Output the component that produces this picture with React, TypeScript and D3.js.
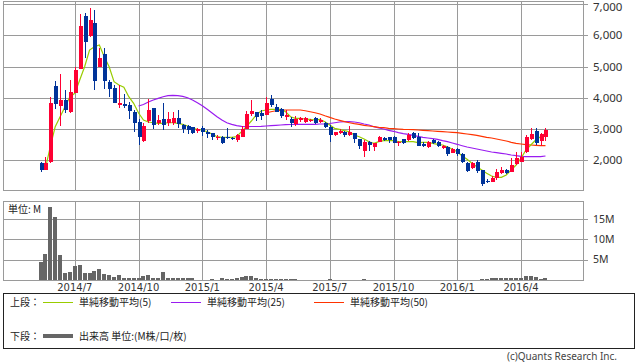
import React, { useRef, useEffect } from "react";
import * as d3 from "d3";

// weekly candles (Friday dated)
const weeks = d3.timeFriday.range(new Date(2014, 4, 16), new Date(2016, 4, 7));

const opens = [
  1923, 1690, 1946, 4376, 3736, 3928, 3554, 4162, 4929, 6615, 5975, 6400, 4993, 5400, 4514, 4312, 3768, 3800, 3768, 3554,
  3234, 2617, 3257, 3663, 3183, 3311, 3183, 3183, 3343, 3129, 3097, 3055, 2937, 3023, 2915, 2864, 2700, 2736, 2736, 2720,
  2649, 2755, 3001, 3481, 3535, 3503, 3449, 3960, 3714, 3641, 3394, 3321, 3151, 3300, 3235, 3257, 3343, 3235, 3183, 3075,
  2809, 2883, 2915, 2809, 2864, 2672, 2307, 2595, 2416, 2595, 2704, 2736, 2755, 2544, 2672, 2649, 2864, 2736, 2512, 2416,
  2649, 2595, 2384, 2435, 2243, 2361, 2201, 1923, 1744, 1955, 1690, 1325, 1316, 1424, 1584, 1690, 1635, 1882, 1955, 2275,
  2681, 2947, 2617, 2736,
];
const highs = [
  1955, 2105, 4024, 4546, 4760, 4248, 4568, 4993, 6678, 6701, 6871, 6807, 5582, 5582, 4560, 4408, 4398, 4120, 3855, 3600,
  3321, 3183, 3960, 3680, 3449, 3842, 3535, 3535, 3609, 3150, 3129, 3070, 3020, 3097, 2980, 2880, 2800, 2770, 3043, 2760,
  2830, 3107, 3577, 3928, 3560, 3609, 4015, 4088, 3791, 3660, 3609, 3394, 3417, 3375, 3394, 3320, 3375, 3362, 3235, 3129,
  2900, 3000, 2930, 3097, 2880, 2690, 2649, 2610, 2560, 2777, 2736, 2750, 2770, 2610, 2690, 2883, 2915, 2864, 2595, 2610,
  2670, 2610, 2480, 2450, 2380, 2380, 2243, 1940, 1955, 2010, 1700, 1400, 1500, 1712, 1776, 1720, 2064, 2275, 2275, 2800,
  3023, 3023, 2870, 3023,
];
const lows = [
  1620, 1680, 1904, 3641, 3097, 3503, 3512, 4152, 4920, 5262, 5960, 4248, 4980, 4270, 4015, 3823, 3663, 3663, 3311, 2915,
  2489, 2590, 3202, 2991, 3129, 2969, 3097, 3129, 3033, 2864, 2831, 2841, 2880, 2777, 2713, 2649, 2650, 2530, 2690, 2660,
  2576, 2740, 2990, 3417, 3247, 3289, 3440, 3714, 3540, 3353, 3289, 3075, 3097, 3235, 3183, 3230, 3170, 3183, 3023, 2576,
  2777, 2850, 2755, 2790, 2544, 2371, 2096, 2297, 2307, 2580, 2620, 2544, 2544, 2467, 2520, 2630, 2690, 2450, 2420, 2400,
  2520, 2420, 2360, 2150, 2220, 2150, 1920, 1626, 1730, 1600, 1178, 1260, 1300, 1370, 1560, 1560, 1620, 1860, 1940, 2233,
  2660, 2500, 2467, 2620,
];
const closes = [
  1690, 1904, 3842, 3810, 3928, 3609, 4184, 4888, 6294, 5793, 6487, 4536, 5272, 4536, 4280, 3842, 3832, 3736, 3586, 3183,
  2755, 3097, 3609, 3130, 3289, 3129, 3311, 3362, 3151, 2991, 2969, 2883, 2991, 2915, 2831, 2736, 2760, 2544, 2700, 2690,
  2809, 3001, 3471, 3586, 3375, 3426, 3823, 3768, 3554, 3417, 3449, 3202, 3311, 3343, 3343, 3289, 3183, 3289, 3075, 2809,
  2895, 2947, 2809, 2915, 2672, 2457, 2595, 2489, 2544, 2736, 2649, 2649, 2563, 2595, 2544, 2809, 2704, 2467, 2467, 2595,
  2544, 2467, 2457, 2192, 2361, 2192, 1936, 1668, 1923, 1658, 1232, 1316, 1424, 1635, 1690, 1584, 1850, 2064, 2115, 2755,
  2831, 2544, 2841, 2969,
];
// volume, millions
const volumes = [
  4.5, 6.4, 18.0, 15.5, 6.2, 1.8, 2.0, 3.5, 3.8, 1.8, 1.8, 2.3, 2.6, 1.5, 1.3, 0.8, 1.3, 0.55, 0.4, 0.4,
  0.55, 1.05, 1.3, 0.55, 0.55, 2.0, 0.55, 0.4, 0.4, 0.4, 0.4, 0.4, 0.1, 0.1, 0.1, 0.3, 0.1, 0.55, 0.15, 0.3,
  0.45, 0.7, 0.9, 0.9, 0.4, 0.35, 0.35, 0.35, 0.35, 0.3, 0.3, 0.2, 0.25, 0.1, 0.1, 0.1, 0.1, 0.1, 0.1, 0.3,
  0.1, 0.05, 0.05, 0.05, 0.05, 0.05, 0.3, 0.05, 0.05, 0.05, 0.05, 0.05, 0.05, 0.05, 0.05, 0.05, 0.05, 0.05, 0.05, 0.05,
  0.05, 0.05, 0.05, 0.05, 0.05, 0.05, 0.05, 0.05, 0.1, 0.1, 0.25, 0.3, 0.4, 0.6, 0.45, 0.6, 0.45, 0.6, 0.6, 1.1,
  0.9, 0.7, 0.2, 0.55,
];
const ma5 = [
  1744, 1744, 2435, 3075, 3394, 3714, 4034, 4142, 4568, 4993, 5527, 5633, 5687, 5313, 4993, 4514, 4408, 4335, 4034, 3823,
  3513, 3289, 3225, 3202, 3183, 3183, 3202, 3202, 3183, 3151, 3097, 3023, 2991, 2969, 2915, 2841, 2755, 2736, 2736, 2736,
  2755, 2915, 3075, 3257, 3449, 3577, 3609, 3631, 3631, 3631, 3554, 3394, 3343, 3343, 3321, 3311, 3289, 3311, 3235, 3129,
  3023, 2991, 2947, 2915, 2809, 2755, 2681, 2595, 2544, 2595, 2627, 2627, 2627, 2595, 2595, 2595, 2595, 2563, 2576, 2576,
  2544, 2512, 2489, 2435, 2352, 2275, 2137, 2031, 1904, 1795, 1690, 1584, 1498, 1456, 1456, 1530, 1690, 1850, 2064, 2329,
  2489, 2649, 2755, 2864,
];
const ma25 = [
  null, null, null, null, null, null, null, null, null, null, null, null, null, null, null, null, null, null, null, null,
  3737, 3784, 3864, 3928, 3983, 4034, 4066, 4079, 4066, 4047, 4002, 3928, 3842, 3746, 3631, 3513, 3394, 3289, 3202, 3151,
  3107, 3087, 3075, 3081, 3081, 3087, 3097, 3107, 3119, 3129, 3139, 3145, 3151, 3151, 3151, 3151, 3151, 3161, 3161, 3177,
  3202, 3225, 3235, 3235, 3225, 3202, 3161, 3129, 3075, 3033, 3001, 2960, 2928, 2883, 2851, 2832, 2800, 2768, 2736, 2713,
  2691, 2671, 2627, 2595, 2553, 2512, 2467, 2425, 2393, 2361, 2329, 2297, 2265, 2243, 2224, 2201, 2169, 2147, 2128, 2115,
  2115, 2115, 2115, 2137,
];
const ma50 = [
  null, null, null, null, null, null, null, null, null, null, null, null, null, null, null, null, null, null, null, null,
  null, null, null, null, null, null, null, null, null, null, null, null, null, null, null, null, null, null, null, null,
  null, null, null, null, null, null, 3513, 3554, 3586, 3599, 3609, 3609, 3609, 3609, 3586, 3554, 3522, 3481, 3426, 3375,
  3321, 3279, 3235, 3202, 3171, 3151, 3119, 3097, 3075, 3055, 3043, 3023, 3011, 3001, 2991, 2985, 2979, 2969, 2960, 2947,
  2937, 2928, 2915, 2905, 2896, 2883, 2864, 2841, 2819, 2800, 2768, 2736, 2713, 2681, 2649, 2617, 2576, 2544, 2521, 2499,
  2489, 2480, 2467, 2467,
];

const priceTicks = [2000, 3000, 4000, 5000, 6000, 7000];
const volumeTicks = [5, 10, 15];
const tickMonths = [0, 3, 6, 9];

const legendTop = [
  { label: "単純移動平均(5)", color: "#99cc00" },
  { label: "単純移動平均(25)", color: "#9a1cf0" },
  { label: "単純移動平均(50)", color: "#ff3300" },
];

const UP = "#ff0033";
const DOWN = "#003399";
const GRID = "#9a9a9a";

const App = () => {
  const svgRef = useRef<SVGSVGElement>(null);

  useEffect(() => {
    document.body.style.margin = "0";
    const svg = d3.select(svgRef.current);
    svg.selectAll("*").remove();

    const left = 3, right = 583;
    const mainTop = 1, mainBottom = 190;
    const volTop = 201, volBottom = 280;

    const idx = weeks.map((_, i) => i);
    const x = d3.scalePoint<number>().domain(idx).range([left, right]).padding(7.65);
    const y = d3.scaleLinear().domain([1050, 7096]).range([mainBottom, mainTop]);
    const yv = d3.scaleLinear().domain([0, 19.5]).range([volBottom, volTop]);

    // first week of Jan/Apr/Jul/Oct
    const tickIdx = idx.filter(
      (i) => tickMonths.includes(weeks[i].getMonth()) && (i === 0 || weeks[i - 1].getMonth() !== weeks[i].getMonth())
    );
    const fmt = d3.timeFormat("%Y/%-m");
    const crisp = (v: number) => Math.round(v) + 0.5;

    const g = svg.append("g").attr("shape-rendering", "crispEdges");

    // main grid
    g.selectAll(".hgrid")
      .data(priceTicks)
      .enter()
      .append("line")
      .attr("x1", left)
      .attr("x2", right + 5)
      .attr("y1", (d) => crisp(y(d)))
      .attr("y2", (d) => crisp(y(d)))
      .attr("stroke", GRID);
    g.selectAll(".vgrid")
      .data(tickIdx)
      .enter()
      .append("line")
      .attr("x1", (d) => crisp(x(d)!))
      .attr("x2", (d) => crisp(x(d)!))
      .attr("y1", mainTop)
      .attr("y2", mainBottom)
      .attr("stroke", GRID);
    g.append("rect")
      .attr("x", left + 0.5)
      .attr("y", mainTop + 0.5)
      .attr("width", right - left)
      .attr("height", mainBottom - mainTop)
      .attr("fill", "none")
      .attr("stroke", GRID);

    // volume grid
    g.selectAll(".vhgrid")
      .data(volumeTicks)
      .enter()
      .append("line")
      .attr("x1", left)
      .attr("x2", right + 5)
      .attr("y1", (d) => crisp(yv(d)))
      .attr("y2", (d) => crisp(yv(d)))
      .attr("stroke", GRID);
    g.selectAll(".vvgrid")
      .data(tickIdx)
      .enter()
      .append("line")
      .attr("x1", (d) => crisp(x(d)!))
      .attr("x2", (d) => crisp(x(d)!))
      .attr("y1", volTop)
      .attr("y2", volBottom)
      .attr("stroke", GRID);

    // volume bars
    g.selectAll(".vol")
      .data(volumes)
      .enter()
      .append("rect")
      .attr("x", (_, i) => Math.round(x(i)!) - 2)
      .attr("width", 4)
      .attr("y", (d) => Math.round(yv(d)))
      .attr("height", (d) => Math.max(0, volBottom - Math.round(yv(d))))
      .attr("fill", "#666666");

    g.append("rect")
      .attr("x", left + 0.5)
      .attr("y", volTop + 0.5)
      .attr("width", right - left)
      .attr("height", volBottom - volTop)
      .attr("fill", "none")
      .attr("stroke", GRID);

    // moving averages
    const maLine = d3
      .line<number | null>()
      .defined((d) => d != null)
      .x((_, i) => x(i)!)
      .y((d) => y(d as number));
    [ma25, ma50, ma5].forEach((s, j) => {
      svg
        .append("path")
        .attr("d", maLine(s))
        .attr("fill", "none")
        .attr("stroke", [legendTop[1].color, legendTop[2].color, legendTop[0].color][j])
        .attr("stroke-width", 1.2);
    });

    // candles
    const candles = svg.append("g").attr("shape-rendering", "crispEdges");
    idx.forEach((i) => {
      const up = closes[i] >= opens[i];
      const c = up ? UP : DOWN;
      const cx = Math.round(x(i)!);
      candles
        .append("line")
        .attr("x1", cx + 0.5)
        .attr("x2", cx + 0.5)
        .attr("y1", y(highs[i]))
        .attr("y2", y(lows[i]))
        .attr("stroke", c);
      const top = y(Math.max(opens[i], closes[i]));
      const bot = y(Math.min(opens[i], closes[i]));
      candles
        .append("rect")
        .attr("x", cx - 1)
        .attr("width", 4)
        .attr("y", top)
        .attr("height", Math.max(1, bot - top))
        .attr("fill", c);
    });

    // axis labels
    const txt = svg.append("g").attr("font-family", "'Noto Sans', 'DejaVu Sans', sans-serif").attr("fill", "#333");
    txt
      .selectAll(".py")
      .data(priceTicks)
      .enter()
      .append("text")
      .attr("x", 593)
      .attr("y", (d) => Math.max(7, y(d)))
      .attr("dy", "0.35em")
      .attr("font-size", 11.5)
      .text((d) => d3.format(",")(d));
    txt
      .selectAll(".vy")
      .data(volumeTicks)
      .enter()
      .append("text")
      .attr("x", 593)
      .attr("y", (d) => yv(d))
      .attr("dy", "0.35em")
      .attr("font-size", 10.5)
      .text((d) => `${d}M`);
    txt
      .selectAll(".dx")
      .data(tickIdx)
      .enter()
      .append("text")
      .attr("x", (d) => x(d)!)
      .attr("y", 291)
      .attr("text-anchor", "middle")
      .attr("font-size", 10)
      .attr("font-family", "'DejaVu Sans', sans-serif")
      .text((d) => fmt(weeks[d]));
    txt
      .append("text")
      .attr("x", 8)
      .attr("y", 213)
      .attr("font-size", 10)
      .attr("font-family", "'Noto Sans CJK JP', sans-serif")
      .attr("fill", "#222")
      .text("単位: M");

    // legend
    const lg = svg.append("g").attr("font-family", "'Noto Sans CJK JP', sans-serif").attr("font-size", 10).attr("fill", "#222");
    lg.append("rect")
      .attr("x", 3.5)
      .attr("y", 293.5)
      .attr("width", 631)
      .attr("height", 55)
      .attr("fill", "none")
      .attr("stroke", "#222")
      .attr("shape-rendering", "crispEdges");
    lg.append("text").attr("x", 10).attr("y", 306).text("上段：");
    const lx = [43, 171, 314];
    legendTop.forEach((d, i) => {
      lg.append("line")
        .attr("x1", lx[i])
        .attr("x2", lx[i] + 30)
        .attr("y1", 302.5)
        .attr("y2", 302.5)
        .attr("stroke", d.color)
        .attr("stroke-width", 1);
      lg.append("text").attr("x", lx[i] + 36).attr("y", 306).text(d.label);
    });
    lg.append("text").attr("x", 10).attr("y", 340).text("下段：");
    lg.append("line")
      .attr("x1", 43)
      .attr("x2", 73)
      .attr("y1", 336)
      .attr("y2", 336)
      .attr("stroke", "#666")
      .attr("stroke-width", 4);
    lg.append("text").attr("x", 79).attr("y", 340).text("出来高 単位:(M株/口/枚)");

    svg
      .append("text")
      .attr("x", 617)
      .attr("y", 360)
      .attr("text-anchor", "end")
      .attr("font-size", 10)
      .attr("font-family", "'Noto Sans', sans-serif")
      .attr("fill", "#444")
      .text("(c)Quants Research Inc.");
  }, []);

  return <svg ref={svgRef} width={638} height={362} style={{ display: "block" }}></svg>;
};

export default App;
